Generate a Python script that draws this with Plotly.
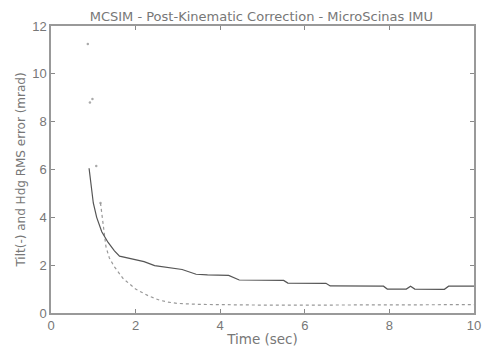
import plotly.graph_objects as go

# Solid series: Tilt RMS error (mrad)
solid_t = [0.9, 0.95, 1.0, 1.08, 1.2, 1.35, 1.5, 1.62, 1.9, 2.2, 2.45, 2.8, 3.1, 3.43, 3.7, 4.2, 4.45, 5.5, 5.6, 6.5, 6.6, 7.86, 7.95, 8.4, 8.5, 8.6, 9.3, 9.4, 10.0]
solid_v = [6.05, 5.3, 4.6, 4.0, 3.4, 2.95, 2.6, 2.38, 2.28, 2.15, 1.98, 1.9, 1.82, 1.62, 1.59, 1.57, 1.38, 1.36, 1.25, 1.24, 1.13, 1.12, 1.0, 1.0, 1.12, 1.0, 0.99, 1.12, 1.12]

# Dotted series: Heading RMS error (mrad)
dot_t = [0.87, 0.92, 0.98, 1.07, 1.17, 1.3, 1.38, 1.5, 1.7, 2.0, 2.3, 2.56, 2.75, 3.0, 3.5, 4.0, 5.0, 6.0, 7.0, 8.0, 9.0, 10.0]
dot_v = [11.25, 8.8, 8.95, 6.15, 4.6, 2.76, 2.3, 1.93, 1.45, 1.0, 0.72, 0.54, 0.46, 0.4, 0.36, 0.34, 0.33, 0.33, 0.34, 0.35, 0.34, 0.35]

x_ticks = [0, 2, 4, 6, 8, 10]
y_ticks = [0, 2, 4, 6, 8, 10, 12]

title_text = "MCSIM - Post-Kinematic Correction - MicroScinas IMU"
x_title = "Time (sec)"
y_title = "Tilt(-) and Hdg RMS error (mrad)"

n_sparse = 5  # early isolated dots

fig = go.Figure()
fig.add_trace(go.Scatter(x=dot_t[:n_sparse], y=dot_v[:n_sparse], mode="markers",
                         marker=dict(size=2.5, color="#aaaaaa"), showlegend=False))
fig.add_trace(go.Scatter(x=dot_t[n_sparse - 1:], y=dot_v[n_sparse - 1:], mode="lines",
                         line=dict(color="#999999", width=1.2, dash="dot"), showlegend=False))
fig.add_trace(go.Scatter(x=solid_t, y=solid_v, mode="lines",
                         line=dict(color="#555555", width=1.2), showlegend=False))

axis_common = dict(showline=True, linecolor="#999999", linewidth=1.5, mirror="ticks",
                   ticks="inside", ticklen=4, tickcolor="#888888", showgrid=False,
                   zeroline=False, automargin=False,
                   tickfont=dict(family="Liberation Sans, Arial", size=13, color="#777777"))

fig.update_layout(
    width=484, height=351,
    margin=dict(l=51, r=10, t=26, b=38),
    paper_bgcolor="white", plot_bgcolor="white",
    title=dict(text=title_text, x=0.54, xanchor="center", y=0.965, yanchor="top",
               font=dict(family="DejaVu Sans", size=13, color="#777777")),
    xaxis=dict(range=[0, 10], tickvals=x_ticks, ticktext=[str(v) for v in x_ticks],
               title=dict(text=x_title, standoff=2,
                          font=dict(family="DejaVu Sans", size=13.5, color="#777777")),
               **axis_common),
    yaxis=dict(range=[0, 12], tickvals=y_ticks, ticktext=[str(v) for v in y_ticks],
               title=dict(text=y_title, standoff=4,
                          font=dict(family="DejaVu Sans", size=12, color="#777777")),
               **axis_common),
)

fig.write_html("out.html", config={"responsive": False})
